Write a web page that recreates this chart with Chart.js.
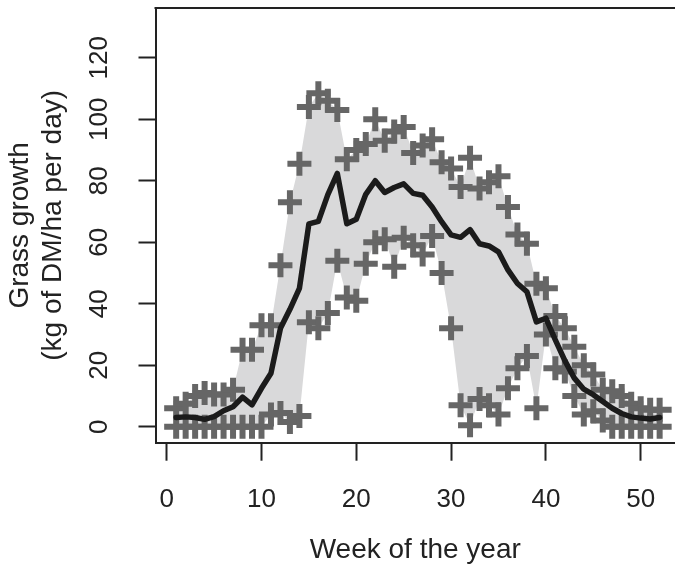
<!DOCTYPE html>
<html>
<head>
<meta charset="utf-8">
<script src="https://cdn.jsdelivr.net/npm/chart.js@4/dist/chart.umd.min.js"></script>
<style>
  html, body { margin: 0; padding: 0; background: #fff; overflow: hidden; }
  canvas { display: block; }
</style>
</head>
<body>
<canvas id="grass" width="675" height="567"></canvas>
<script>
// weekly grass growth, kg DM/ha per day
const weeks = Array.from({ length: 52 }, (_, i) => i + 1);

const growthMax = [
  6, 7.5, 10, 11, 10.5, 10.5, 12, 25, 25, 33,
  33, 52.5, 73, 85.5, 104, 108.5, 106, 103, 87, 90,
  92, 100, 93, 96, 97.5, 89, 91.5, 93.5, 86, 84,
  78, 87.5, 77.5, 79.5, 81.5, 71.5, 62.5, 59.5, 46.5, 45,
  36, 32, 26, 20, 17, 12, 11.5, 10, 7.5, 6,
  5.5, 5.5
];

const growthMin = [
  0, 0, 0, 0, 0, 0, 0, 0, 0, 0,
  4, 4.5, 1.5, 3.5, 34, 32, 37, 54, 42, 41,
  53, 60, 61, 52, 61.5, 59, 56, 62, 50, 32,
  7, 0.5, 9, 7, 4, 12.5, 19, 23, 6, 30,
  19, 18, 10, 4, 5, 2, 0, 0, 0, 0,
  0, 0
];

const growthMean = [
  3.0, 3.2, 3.0, 2.4, 3.3, 5.2, 6.5, 9.6, 7.1, 12.5,
  17.4, 32, 38.2, 45, 66, 66.8, 75.5, 82.4, 66, 67.5,
  75.6, 80, 76.2, 77.8, 79, 75.9, 75.3, 71.5, 66.7, 62.4,
  61.6, 64.1, 59.5, 58.8, 56.9, 51, 46.6, 43.9, 34.1, 35.3,
  28.2, 21.5, 15.8, 12.2, 10.4, 8.2, 6, 4.3, 3.2, 2.8,
  2.5, 3.0
];

const xTicks = [0, 10, 20, 30, 40, 50];
const yTicks = [0, 20, 40, 60, 80, 100, 120];

const FONT = "'Liberation Sans', Arial, sans-serif";
const INK = '#222';

const pts = arr => weeks.map((w, i) => ({ x: w, y: arr[i] }));

// R style box: the top edge (left/bottom come from the axis borders)
const boxTop = {
  id: 'boxTop',
  afterDraw(chart) {
    const { ctx, chartArea: a } = chart;
    ctx.save();
    ctx.strokeStyle = INK;
    ctx.lineWidth = 2;
    ctx.beginPath();
    ctx.moveTo(a.left - 1, a.top);
    ctx.lineTo(a.right, a.top);
    ctx.stroke();
    ctx.restore();
  }
};

// keep the plot box where the original puts it
const noPad = s => {
  s.paddingTop = 0;
  s.paddingBottom = 0;
  s.paddingLeft = 0;
  s.paddingRight = 0;
};

new Chart(document.getElementById('grass'), {
  type: 'line',
  data: {
    datasets: [
      {
        label: 'Mean',
        data: pts(growthMean),
        borderColor: '#1b1b1b',
        borderWidth: 5.5,
        borderJoinStyle: 'round',
        borderCapStyle: 'round',
        pointRadius: 0,
        tension: 0,
        fill: false,
        order: 0
      },
      {
        label: 'Min',
        data: pts(growthMin),
        borderWidth: 0,
        pointStyle: 'cross',
        pointRadius: 12,
        pointBorderWidth: 6,
        pointBorderColor: '#666',
        pointBackgroundColor: '#666',
        fill: false,
        order: 1
      },
      {
        label: 'Max',
        data: pts(growthMax),
        borderWidth: 0,
        backgroundColor: '#d9d9da',
        pointStyle: 'cross',
        pointRadius: 12,
        pointBorderWidth: 6,
        pointBorderColor: '#666',
        pointBackgroundColor: '#666',
        fill: 1,
        order: 2
      }
    ]
  },
  options: {
    responsive: false,
    animation: false,
    events: [],
    layout: { autoPadding: false, padding: { top: 8, left: 0, right: 0, bottom: 0 } },
    plugins: {
      legend: { display: false },
      tooltip: { enabled: false }
    },
    scales: {
      x: {
        type: 'linear',
        min: -1.18,
        max: 53.62,
        afterBuildTicks: s => { s.ticks = xTicks.map(v => ({ value: v })); },
        afterFit: s => { s.height = 124.3; noPad(s); },
        grid: { drawOnChartArea: false, tickLength: 18, tickWidth: 2, tickColor: INK },
        border: { display: true, color: INK, width: 2 },
        ticks: { font: { family: FONT, size: 26 }, color: INK, padding: 23.5, maxRotation: 0 },
        title: {
          display: true,
          text: 'Week of the year',
          font: { family: FONT, size: 28 },
          color: INK,
          padding: { top: 0, bottom: 0 }
        }
      },
      y: {
        min: -5.2,
        max: 136.2,
        afterBuildTicks: s => { s.ticks = yTicks.map(v => ({ value: v })); },
        afterFit: s => { s.width = 155.5; noPad(s); },
        grid: { drawOnChartArea: false, tickLength: 17, tickWidth: 2, tickColor: INK },
        border: { display: true, color: INK, width: 2 },
        ticks: {
          font: { family: FONT, size: 26 },
          color: INK,
          padding: 17,
          minRotation: 90,
          maxRotation: 90,
          crossAlign: 'center'
        },
        title: {
          display: true,
          text: ['Grass growth', '(kg of DM/ha per day)'],
          font: { family: FONT, size: 28, lineHeight: 1.2 },
          color: INK,
          padding: { top: 3, bottom: 0 }
        }
      }
    }
  },
  plugins: [boxTop]
});
</script>
</body>
</html>
